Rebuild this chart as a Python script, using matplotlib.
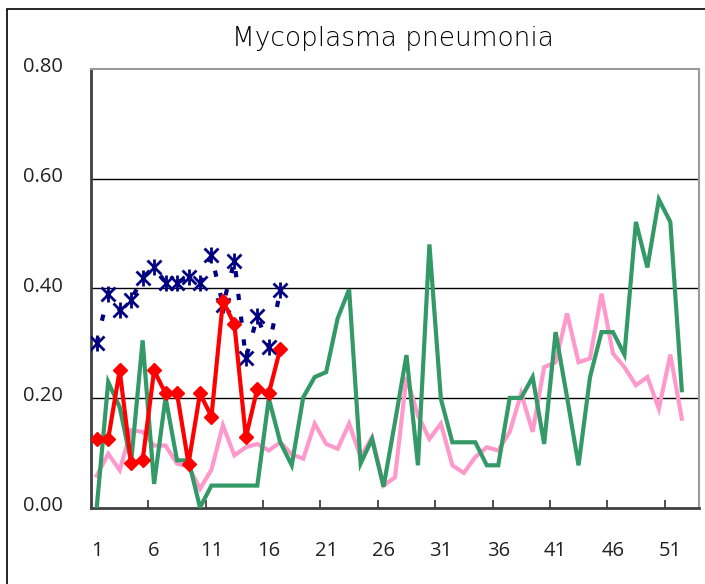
import matplotlib
matplotlib.use("Agg")
import matplotlib.pyplot as plt
import matplotlib.patches as mpatches
import matplotlib.transforms as mtransforms
import numpy as np

title = "Mycoplasma pneumonia"

weeks_all = list(range(1, 53))
weeks_cur = list(range(1, 18))

pink_vals = [0.058, 0.098, 0.068, 0.141, 0.138, 0.113, 0.113, 0.080, 0.075, 0.034,
             0.069, 0.150, 0.095, 0.110, 0.116, 0.104, 0.119, 0.097, 0.089, 0.153,
             0.116, 0.107, 0.153, 0.092, 0.128, 0.040, 0.055, 0.238, 0.168, 0.125,
             0.153, 0.077, 0.063, 0.092, 0.110, 0.104, 0.138, 0.208, 0.138, 0.256,
             0.265, 0.354, 0.265, 0.272, 0.390, 0.281, 0.256, 0.223, 0.238, 0.180,
             0.279, 0.162]

green_vals = [0.000, 0.229, 0.183, 0.083, 0.305, 0.043, 0.201, 0.086, 0.086, 0.000,
              0.040, 0.040, 0.040, 0.040, 0.040, 0.199, 0.119, 0.077, 0.201, 0.238,
              0.247, 0.345, 0.398, 0.080, 0.125, 0.038, 0.156, 0.278, 0.077, 0.480,
              0.198, 0.119, 0.119, 0.119, 0.077, 0.077, 0.200, 0.200, 0.238, 0.116,
              0.320, 0.201, 0.077, 0.238, 0.320, 0.320, 0.279, 0.521, 0.438, 0.562,
              0.521, 0.214]

navy_vals = [0.300, 0.390, 0.360, 0.379, 0.419, 0.439, 0.410, 0.410, 0.421, 0.410,
             0.460, 0.369, 0.450, 0.272, 0.349, 0.292, 0.396]

red_vals = [0.125, 0.125, 0.250, 0.081, 0.086, 0.250, 0.208, 0.208, 0.080, 0.208,
            0.166, 0.377, 0.334, 0.128, 0.217, 0.208, 0.290]

y_ticks = [0.0, 0.2, 0.4, 0.6, 0.8]
x_label_weeks = list(range(1, 53, 5))

W, H, DPI = 705, 584, 100
fig = plt.figure(figsize=(W / DPI, H / DPI), dpi=DPI)
fig.patch.set_facecolor("white")

# outer chart border
fig.patches.append(mpatches.Rectangle((7 / W, -0.05), 1.0, 1 - 9 / H + 0.05,
                                      transform=fig.transFigure, fill=False,
                                      edgecolor="black", linewidth=1.2))

ax = fig.add_axes([91 / W, 1 - 507.5 / H, (699 - 91) / W, (507.5 - 69) / H])
ax.set_xlim(0.5, 53.5)
ax.set_ylim(0, 0.8)

for yv in y_ticks[1:-1]:
    ax.axhline(yv, color="black", linewidth=1.0, zorder=1)

ax.plot(weeks_all, pink_vals, color="#FF99CC", linewidth=3.0, zorder=2,
        solid_joinstyle="miter")
ax.plot(weeks_all, green_vals, color="#339966", linewidth=3.0, zorder=3,
        solid_joinstyle="miter")
ax.plot(weeks_cur, navy_vals, color="#000080", linewidth=3.0, zorder=4,
        linestyle=(0, (1.5, 4.0)), dash_capstyle="butt")
ax.plot(weeks_cur, navy_vals, linestyle="none", marker="x", markersize=9.5,
        markeredgewidth=2.0, color="#000080", zorder=5)
ax.plot(weeks_cur, navy_vals, linestyle="none", marker="|", markersize=12,
        markeredgewidth=2.0, color="#000080", zorder=5)
ax.plot(weeks_cur, red_vals, color="#FF0000", linewidth=3.0, zorder=6,
        marker="D", markersize=7, markeredgecolor="#FF0000",
        markerfacecolor="#FF0000", solid_joinstyle="miter")

for side in ["top", "right"]:
    ax.spines[side].set_color("#9A9A9A")
    ax.spines[side].set_linewidth(1.5)
for side in ["left", "bottom"]:
    ax.spines[side].set_color("#404040")
    ax.spines[side].set_linewidth(2.0)

ax.set_yticks(y_ticks)
ax.set_yticklabels(["%.2f" % v for v in y_ticks])
ax.tick_params(axis="y", length=0, pad=20, labelsize=14.5)

ax.set_xticks([w + 4.5 for w in x_label_weeks[:-1]])
ax.set_xticklabels([])
ax.tick_params(axis="x", which="major", direction="in", length=5.5, width=1.3,
               color="#404040")
ax.set_xticks(x_label_weeks, minor=True)
ax.set_xticklabels([str(w) for w in x_label_weeks], minor=True)
ax.tick_params(axis="x", which="minor", length=0, pad=24, labelsize=14.5)

for lab in ax.get_yticklabels() + ax.get_xticklabels(minor=True):
    lab.set_fontfamily(["Open Sans", "DejaVu Sans"])
    lab.set_color("#222222")

off = mtransforms.ScaledTranslation(0, 4 / DPI, fig.dpi_scale_trans)
for lab in ax.get_yticklabels():
    lab.set_transform(lab.get_transform() + off)

fig.text(392.5 / W, 1 - 45.7 / H, title, ha="center", va="baseline",
         fontsize=19, family=["DejaVu Sans"], fontweight="light",
         color="black")

fig.savefig("out.png", dpi=DPI)
